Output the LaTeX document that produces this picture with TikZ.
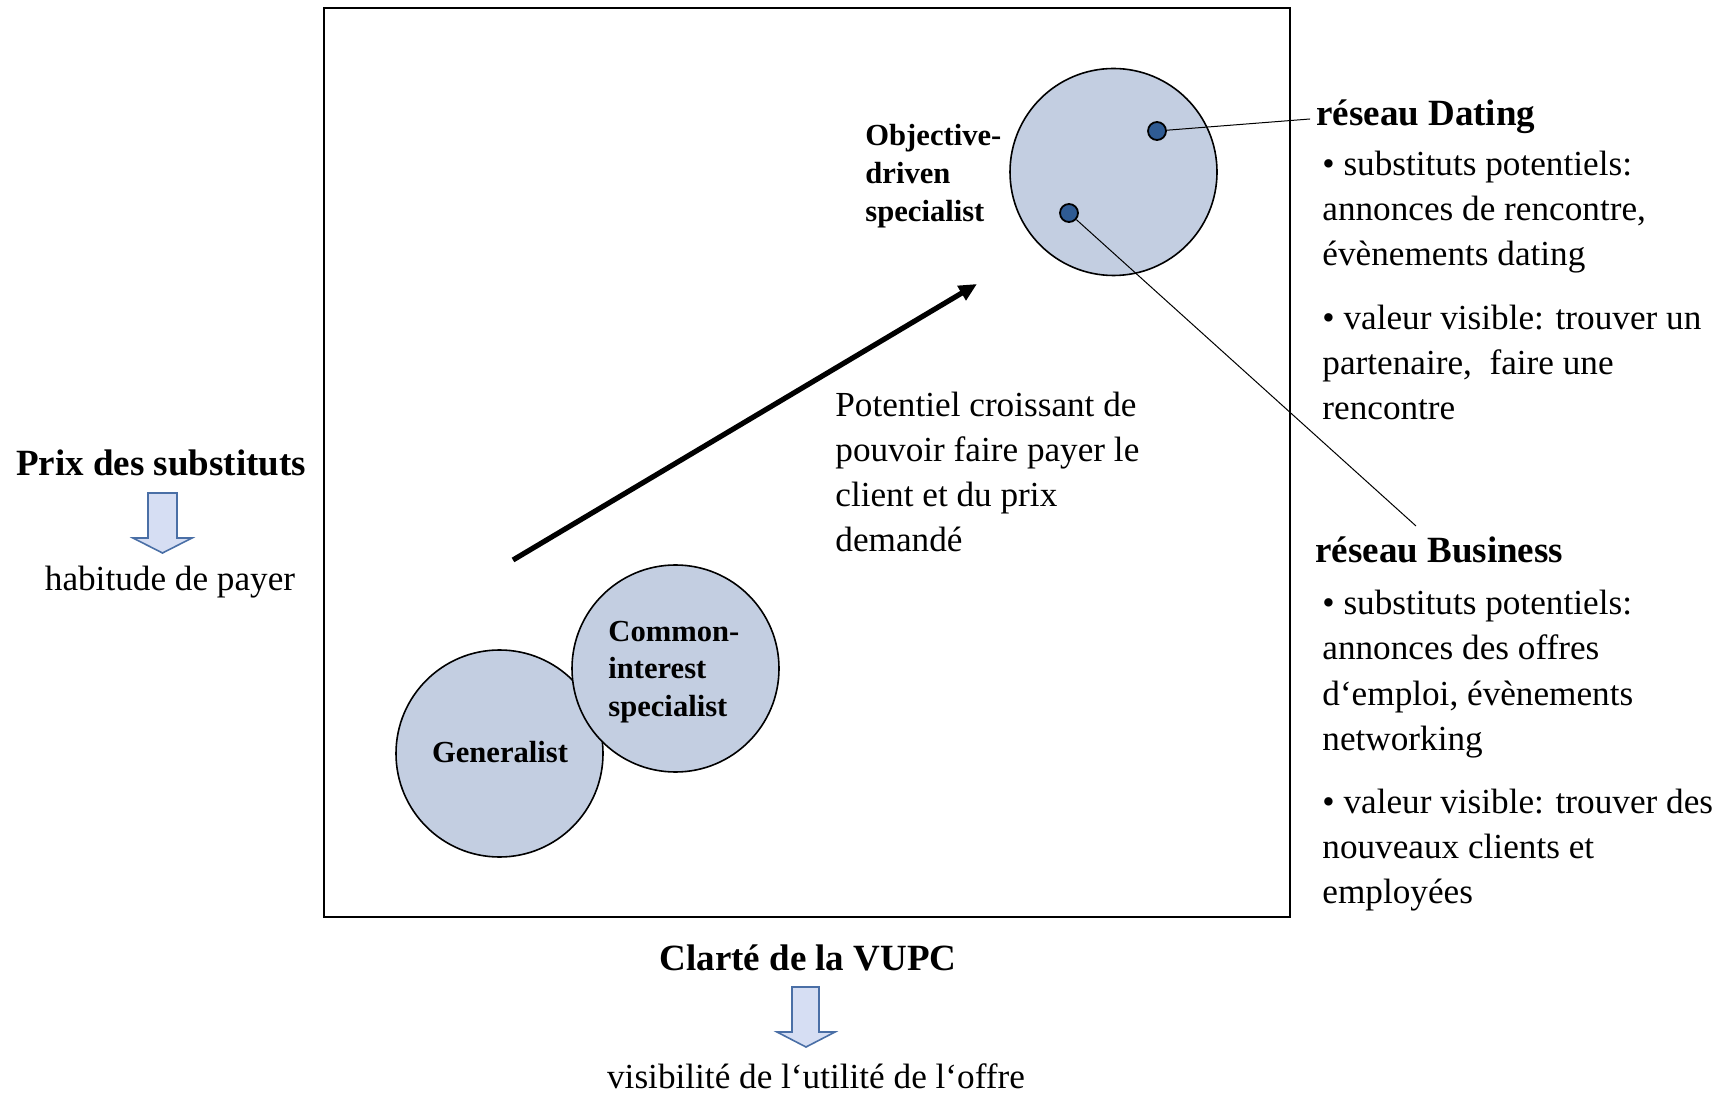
\documentclass[tikz,border=0pt]{standalone}
\usepackage{fontspec}
\setmainfont{Liberation Serif}
\usetikzlibrary{arrows.meta}
\definecolor{bubble}{HTML}{C3CEE1}
\definecolor{dotblue}{HTML}{2F5B93}
\definecolor{blockfill}{HTML}{D6DEF3}
\definecolor{blockline}{HTML}{4A6FA6}
\newcommand{\regtext}{\fontsize{17.6}{22.5}\selectfont}
\newcommand{\headtext}{\fontsize{18.5}{22.5}\selectfont\bfseries}
\newcommand{\bubbletext}{\fontsize{15.3}{18.8}\selectfont\bfseries}
\newcommand{\lines}[1]{\begin{tabular}[t]{@{}l@{}}#1\end{tabular}}
\tikzset{
  bubblenode/.style={circle, draw=black, line width=0.8pt, fill=bubble, minimum size=103.5pt, inner sep=0pt},
  dotnode/.style={circle, draw=black, line width=0.9pt, fill=dotblue, minimum size=9pt, inner sep=0pt},
  txt/.style={anchor=base west, inner sep=0pt, font=\regtext},
  head/.style={anchor=base west, inner sep=0pt, font=\headtext},
  btxt/.style={anchor=base west, inner sep=0pt, font=\bubbletext},
  blockarrow/.style={draw=blockline, fill=blockfill, line width=0.8pt, line join=miter},
  leader/.style={draw=black, line width=0.5pt}
}
\begin{document}
\begin{tikzpicture}[x=0.5pt, y=-0.5pt]
\useasboundingbox (0,0) rectangle (1733,1095);

% frame
\node[draw=black, line width=1pt, minimum width=483pt, minimum height=454.5pt, inner sep=0pt] (frame) at (807,462.5) {};

% bubbles
\node[bubblenode] (generalist) at (499.5,753.5) {};
\node[bubblenode] (common) at (675.5,668.5) {};
\node[bubblenode] (objective) at (1113.5,172) {};

\node[btxt, anchor=base] (genlabel) at (500,762) {Generalist};
\node[btxt] (comlabel) at (608,641) {\lines{Common-\\interest\\specialist}};
\node[btxt] (objlabel) at (865,146) {\lines{Objective-\\driven\\specialist}};

% dots and leaders
\node[dotnode] (dotdating) at (1157,131) {};
\node[dotnode] (dotbusiness) at (1069,213) {};
\coordinate (datingend) at (1310,119);
\coordinate (businessend) at (1416,526);
\draw[leader] (dotdating) -- (datingend);
\draw[leader] (dotbusiness) -- (businessend);

% growth arrow
\coordinate (growstart) at (513,560);
\coordinate (growend) at (977,284);
\draw[line width=2.6pt, -{Triangle[length=9pt,width=8pt]}] (growstart) -- (growend);
\node[txt] (growlabel) at (835,417) {\lines{Potentiel croissant de\\pouvoir faire payer le\\client et du prix\\demandé}};

% left axis label
\node[head, anchor=base] (prix) at (161,476) {Prix des substituts};
\draw[blockarrow] (148,493) -- (177,493) -- (177,538) -- (192,538) -- (162.5,553) -- (133,538) -- (148,538) -- cycle;
\node[txt, anchor=base] (habitude) at (170,591) {habitude de payer};

% bottom axis label
\node[head, anchor=base] (clarte) at (808,970) {Clarté de la VUPC};
\draw[blockarrow] (792,987) -- (819,987) -- (819,1032) -- (835,1032) -- (806,1047) -- (777,1032) -- (792,1032) -- cycle;
\node[txt, anchor=base] (visib) at (816,1088) {visibilité de l‘utilité de l‘offre};

% dating network
\node[head] (dating) at (1316,126) {réseau Dating};
\node[txt] (dating1) at (1322,176) {\lines{• substituts potentiels:\\annonces de rencontre,\\évènements dating}};
\node[txt] (dating2) at (1322,330) {\lines{• valeur visible: trouver un\\partenaire,\ \ faire une\\rencontre}};

% business network
\node[head] (business) at (1315,563) {réseau Business};
\node[txt] (business1) at (1322,615) {\lines{• substituts potentiels:\\annonces des offres\\d‘emploi, évènements\\networking}};
\node[txt] (business2) at (1322,813) {\lines{• valeur visible: trouver des\\nouveaux clients et\\employées}};
\end{tikzpicture}
\end{document}
